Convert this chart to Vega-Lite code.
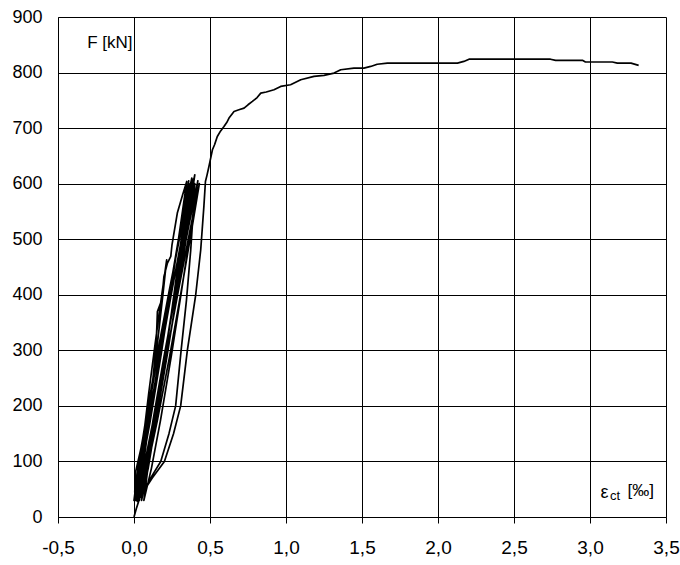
{
  "$schema": "https://vega.github.io/schema/vega-lite/v6.json",
  "width": 608,
  "height": 500,
  "autosize": {"type": "none"},
  "padding": {"left": 58, "top": 17, "right": 14, "bottom": 48},
  "background": "white",
  "config": {
    "view": {"stroke": null},
    "axis": {"labelFont": "Liberation Sans", "titleFont": "Liberation Sans", "labelColor": "#000", "titleColor": "#000", "titleFontWeight": "normal", "labelFlush": false, "labelOverlap": false}
  },
  "data": {
    "values": [
      {"i": 1, "x": 0, "F": 0}, {"i": 2, "x": 0.015, "F": 15}, {"i": 3, "x": 0.033, "F": 30},
      {"i": 4, "x": 0.0385, "F": 47}, {"i": 5, "x": 0.0486, "F": 73}, {"i": 6, "x": 0.0637, "F": 107}, {"i": 7, "x": 0.0799, "F": 141}, {"i": 8, "x": 0.0968, "F": 175}, {"i": 9, "x": 0.11, "F": 200},
      {"i": 10, "x": 0.0984, "F": 175}, {"i": 11, "x": 0.0824, "F": 141}, {"i": 12, "x": 0.0656, "F": 107}, {"i": 13, "x": 0.0477, "F": 73}, {"i": 14, "x": 0.0327, "F": 47}, {"i": 15, "x": 0.02, "F": 30},
      {"i": 16, "x": 0.0338, "F": 73}, {"i": 17, "x": 0.0596, "F": 138}, {"i": 18, "x": 0.0978, "F": 225}, {"i": 19, "x": 0.1388, "F": 311}, {"i": 20, "x": 0.1817, "F": 398}, {"i": 21, "x": 0.215, "F": 463},
      {"i": 22, "x": 0.1892, "F": 398}, {"i": 23, "x": 0.1536, "F": 311}, {"i": 24, "x": 0.1164, "F": 225}, {"i": 25, "x": 0.0766, "F": 138}, {"i": 26, "x": 0.0432, "F": 73}, {"i": 27, "x": 0.015, "F": 30},
      {"i": 28, "x": 0.005, "F": 45}, {"i": 29, "x": 0.011, "F": 82}, {"i": 30, "x": 0.044, "F": 121}, {"i": 31, "x": 0.07, "F": 160}, {"i": 32, "x": 0.099, "F": 200}, {"i": 33, "x": 0.125, "F": 250}, {"i": 34, "x": 0.143, "F": 301}, {"i": 35, "x": 0.15, "F": 340}, {"i": 36, "x": 0.154, "F": 370}, {"i": 37, "x": 0.175, "F": 385}, {"i": 38, "x": 0.187, "F": 403}, {"i": 39, "x": 0.197, "F": 433}, {"i": 40, "x": 0.22, "F": 457}, {"i": 41, "x": 0.242, "F": 469}, {"i": 42, "x": 0.25, "F": 490}, {"i": 43, "x": 0.285, "F": 547}, {"i": 44, "x": 0.32, "F": 580}, {"i": 45, "x": 0.347, "F": 604},
      {"i": 46, "x": 0.3022, "F": 518}, {"i": 47, "x": 0.2405, "F": 403}, {"i": 48, "x": 0.1759, "F": 288}, {"i": 49, "x": 0.1069, "F": 173}, {"i": 50, "x": 0.0489, "F": 87}, {"i": 51, "x": 0.0, "F": 30},
      {"i": 52, "x": 0.027, "F": 88}, {"i": 53, "x": 0.0771, "F": 175}, {"i": 54, "x": 0.1516, "F": 291}, {"i": 55, "x": 0.2314, "F": 407}, {"i": 56, "x": 0.315, "F": 523}, {"i": 57, "x": 0.38, "F": 610},
      {"i": 58, "x": 0.3336, "F": 523}, {"i": 59, "x": 0.2695, "F": 407}, {"i": 60, "x": 0.2025, "F": 291}, {"i": 61, "x": 0.1309, "F": 175}, {"i": 62, "x": 0.0708, "F": 88}, {"i": 63, "x": 0.02, "F": 30},
      {"i": 64, "x": 0.047, "F": 89}, {"i": 65, "x": 0.0971, "F": 177}, {"i": 66, "x": 0.1716, "F": 294}, {"i": 67, "x": 0.2514, "F": 411}, {"i": 68, "x": 0.335, "F": 528}, {"i": 69, "x": 0.40, "F": 616},
      {"i": 70, "x": 0.3529, "F": 528}, {"i": 71, "x": 0.288, "F": 411}, {"i": 72, "x": 0.2201, "F": 294}, {"i": 73, "x": 0.1474, "F": 177}, {"i": 74, "x": 0.0865, "F": 89}, {"i": 75, "x": 0.035, "F": 30},
      {"i": 76, "x": 0.0581, "F": 88}, {"i": 77, "x": 0.101, "F": 174}, {"i": 78, "x": 0.1647, "F": 289}, {"i": 79, "x": 0.2329, "F": 404}, {"i": 80, "x": 0.3044, "F": 519}, {"i": 81, "x": 0.36, "F": 605},
      {"i": 82, "x": 0.32, "F": 519}, {"i": 83, "x": 0.2648, "F": 404}, {"i": 84, "x": 0.2072, "F": 289}, {"i": 85, "x": 0.1455, "F": 174}, {"i": 86, "x": 0.0937, "F": 88}, {"i": 87, "x": 0.05, "F": 30},
      {"i": 88, "x": 0.0763, "F": 88}, {"i": 89, "x": 0.1251, "F": 174}, {"i": 90, "x": 0.1976, "F": 289}, {"i": 91, "x": 0.2753, "F": 404}, {"i": 92, "x": 0.3567, "F": 519}, {"i": 93, "x": 0.42, "F": 605},
      {"i": 94, "x": 0.3742, "F": 519}, {"i": 95, "x": 0.311, "F": 404}, {"i": 96, "x": 0.245, "F": 289}, {"i": 97, "x": 0.1743, "F": 174}, {"i": 98, "x": 0.115, "F": 88}, {"i": 99, "x": 0.065, "F": 30},
      {"i": 100, "x": 0.0909, "F": 87}, {"i": 101, "x": 0.1391, "F": 173}, {"i": 102, "x": 0.2106, "F": 287}, {"i": 103, "x": 0.2873, "F": 401}, {"i": 104, "x": 0.3676, "F": 515}, {"i": 105, "x": 0.43, "F": 600},
      {"i": 106, "x": 0.3784, "F": 515}, {"i": 107, "x": 0.3072, "F": 401}, {"i": 108, "x": 0.2328, "F": 287}, {"i": 109, "x": 0.1532, "F": 173}, {"i": 110, "x": 0.0864, "F": 87}, {"i": 111, "x": 0.03, "F": 30},
      {"i": 111.01, "x": 0.0556, "F": 88}, {"i": 111.02, "x": 0.1031, "F": 175}, {"i": 111.03, "x": 0.1736, "F": 291}, {"i": 111.04, "x": 0.2492, "F": 407}, {"i": 111.05, "x": 0.3284, "F": 523}, {"i": 111.06, "x": 0.39, "F": 608},
      {"i": 111.07, "x": 0.341, "F": 523}, {"i": 111.08, "x": 0.2733, "F": 407}, {"i": 111.09, "x": 0.2027, "F": 291}, {"i": 111.1, "x": 0.127, "F": 175}, {"i": 111.11, "x": 0.0636, "F": 88}, {"i": 111.12, "x": 0.01, "F": 30},
      {"i": 111.13, "x": 0.0356, "F": 87}, {"i": 111.14, "x": 0.0831, "F": 173}, {"i": 111.15, "x": 0.1536, "F": 287}, {"i": 111.16, "x": 0.2292, "F": 401}, {"i": 111.17, "x": 0.3084, "F": 515}, {"i": 111.18, "x": 0.37, "F": 600},
      {"i": 111.19, "x": 0.3261, "F": 515}, {"i": 111.2, "x": 0.2656, "F": 401}, {"i": 111.21, "x": 0.2024, "F": 287}, {"i": 111.22, "x": 0.1347, "F": 173}, {"i": 111.23, "x": 0.0779, "F": 87}, {"i": 111.24, "x": 0.03, "F": 30},
      {"i": 112, "x": 0.07, "F": 50}, {"i": 113, "x": 0.12, "F": 75}, {"i": 114, "x": 0.176, "F": 100}, {"i": 115, "x": 0.23, "F": 150}, {"i": 116, "x": 0.274, "F": 200}, {"i": 117, "x": 0.31, "F": 300}, {"i": 118, "x": 0.345, "F": 390}, {"i": 119, "x": 0.373, "F": 480}, {"i": 120, "x": 0.39, "F": 550}, {"i": 121, "x": 0.40, "F": 600},
      {"i": 122, "x": 0.3512, "F": 514}, {"i": 123, "x": 0.284, "F": 400}, {"i": 124, "x": 0.2137, "F": 286}, {"i": 125, "x": 0.1384, "F": 171}, {"i": 126, "x": 0.0753, "F": 85}, {"i": 127, "x": 0.022, "F": 28},
      {"i": 128, "x": 0.06, "F": 45}, {"i": 129, "x": 0.12, "F": 70}, {"i": 130, "x": 0.2, "F": 100}, {"i": 131, "x": 0.26, "F": 150}, {"i": 132, "x": 0.307, "F": 200}, {"i": 133, "x": 0.351, "F": 300}, {"i": 134, "x": 0.406, "F": 400}, {"i": 135, "x": 0.439, "F": 481}, {"i": 136, "x": 0.46, "F": 560}, {"i": 137, "x": 0.47, "F": 604},
      {"i": 138, "x": 0.48, "F": 615}, {"i": 139, "x": 0.493, "F": 631}, {"i": 140, "x": 0.50, "F": 640}, {"i": 141, "x": 0.516, "F": 661}, {"i": 142, "x": 0.53, "F": 670}, {"i": 143, "x": 0.548, "F": 685}, {"i": 144, "x": 0.57, "F": 695}, {"i": 145, "x": 0.592, "F": 703}, {"i": 146, "x": 0.61, "F": 710}, {"i": 147, "x": 0.625, "F": 718}, {"i": 148, "x": 0.658, "F": 730}, {"i": 149, "x": 0.69, "F": 733}, {"i": 150, "x": 0.724, "F": 736}, {"i": 151, "x": 0.75, "F": 742}, {"i": 152, "x": 0.779, "F": 748}, {"i": 153, "x": 0.81, "F": 755}, {"i": 154, "x": 0.834, "F": 763}, {"i": 155, "x": 0.87, "F": 765}, {"i": 156, "x": 0.921, "F": 769}, {"i": 157, "x": 0.965, "F": 775}, {"i": 158, "x": 1.03, "F": 778}, {"i": 159, "x": 1.097, "F": 787}, {"i": 160, "x": 1.184, "F": 793}, {"i": 161, "x": 1.25, "F": 795}, {"i": 162, "x": 1.316, "F": 799}, {"i": 163, "x": 1.36, "F": 805}, {"i": 164, "x": 1.447, "F": 808}, {"i": 165, "x": 1.513, "F": 808}, {"i": 166, "x": 1.557, "F": 811}, {"i": 167, "x": 1.6, "F": 815}, {"i": 168, "x": 1.667, "F": 817}, {"i": 169, "x": 2.128, "F": 817}, {"i": 170, "x": 2.17, "F": 820}, {"i": 171, "x": 2.204, "F": 824}, {"i": 172, "x": 2.74, "F": 824}, {"i": 173, "x": 2.774, "F": 822}, {"i": 174, "x": 2.95, "F": 822}, {"i": 175, "x": 2.97, "F": 819}, {"i": 176, "x": 3.147, "F": 819}, {"i": 177, "x": 3.18, "F": 817}, {"i": 178, "x": 3.27, "F": 817}, {"i": 179, "x": 3.32, "F": 813}
    ]
  },
  "layer": [
    {
      "mark": {"type": "line", "color": "#000", "strokeWidth": 1.7, "strokeJoin": "round"},
      "encoding": {
        "x": {
          "field": "x", "type": "quantitative",
          "scale": {"domain": [-0.5, 3.5], "nice": false, "zero": false},
          "axis": {
            "orient": "bottom",
            "values": [-0.5, 0, 0.5, 1, 1.5, 2, 2.5, 3, 3.5],
            "labelExpr": "replace(replace(format(datum.value, '.1f'), '.', ','), '−', '-')",
            "grid": true, "gridColor": "#000", "gridWidth": 1, "gridOpacity": 1,
            "domain": true, "domainColor": "#000", "domainWidth": 1,
            "ticks": true, "tickColor": "#000", "tickSize": 6, "tickWidth": 1,
            "labelFontSize": 19, "labelPadding": 15,
            "title": "ε", "titleFontSize": 18, "titleX": 542, "titleY": -20, "titleAlign": "left", "titleBaseline": "alphabetic", "titleAngle": 0
          }
        },
        "y": {
          "field": "F", "type": "quantitative",
          "scale": {"domain": [0, 900], "nice": false, "zero": true},
          "axis": {
            "orient": "left",
            "values": [0, 100, 200, 300, 400, 500, 600, 700, 800, 900],
            "format": "d",
            "grid": true, "gridColor": "#000", "gridWidth": 1, "gridOpacity": 1,
            "domain": true, "domainColor": "#000", "domainWidth": 1,
            "ticks": false, "tickSize": 0,
            "labelFontSize": 18, "labelPadding": 16,
            "title": "F [kN]", "titleFontSize": 17, "titleAngle": 0, "titleAlign": "right", "titleBaseline": "alphabetic", "titleX": 74, "titleY": 30.5
          }
        },
        "order": {"field": "i", "type": "quantitative"}
      }
    },
    {
      "mark": {"type": "point", "opacity": 0},
      "encoding": {
        "x": {
          "field": "x", "type": "quantitative",
          "axis": {
            "orient": "bottom", "labels": false, "ticks": false, "domain": false, "grid": false,
            "title": "ct", "titleFontSize": 13, "titleX": 551.5, "titleY": -18, "titleAlign": "left", "titleBaseline": "alphabetic", "titleAngle": 0
          }
        },
        "y": {
          "field": "F", "type": "quantitative",
          "axis": {
            "orient": "left", "labels": false, "ticks": false, "domain": false, "grid": false,
            "title": "[‰]", "titleFontSize": 17, "titleX": 569, "titleY": 478, "titleAlign": "left", "titleBaseline": "alphabetic", "titleAngle": 0
          }
        }
      }
    }
  ],
  "resolve": {"axis": {"x": "independent", "y": "independent"}}
}
